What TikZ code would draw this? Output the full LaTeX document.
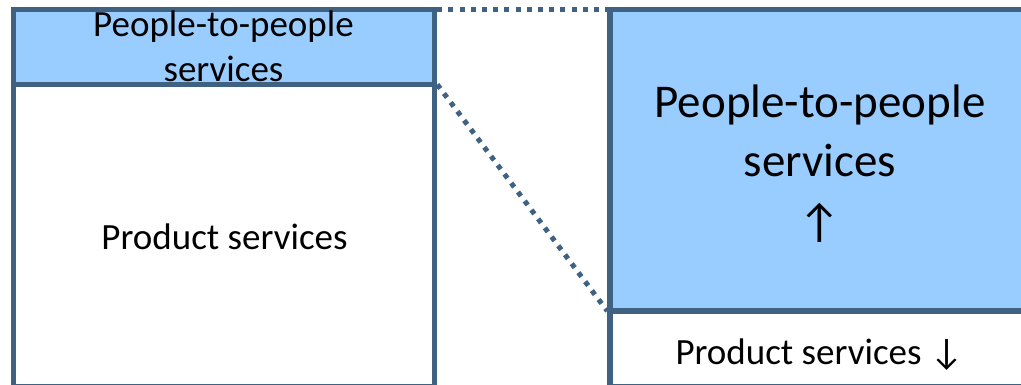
\documentclass[tikz,border=0pt]{standalone}
\usepackage{fontspec}
\setmainfont{Carlito}
\definecolor{frame}{RGB}{63,97,130}
\definecolor{band}{RGB}{153,204,255}
\tikzset{
  panel/.style={draw=frame, line width=5.5pt},
  zoomline/.style={draw=frame, line width=5pt, dash pattern=on 5pt off 6.2pt},
  smalltext/.style={font=\fontsize{37}{45}\selectfont, align=center, anchor=base, inner sep=0pt},
  bigtext/.style={font=\fontsize{47}{59}\selectfont, align=center, anchor=base, inner sep=0pt}
}
\begin{document}
\begin{tikzpicture}[x=1pt, y=-1pt]
  \useasboundingbox (0,0) rectangle (1021,385);
  \clip (0,0) rectangle (1021,385);
  % corner points of the two panels
  \coordinate (lt) at (13.5,9.5);
  \coordinate (lm) at (434.5,84.5);
  \coordinate (lb) at (434.5,387);
  \coordinate (rt) at (610,9.5);
  \coordinate (rm) at (1032,311);
  \coordinate (rb) at (1032,387);
  \coordinate (ltr) at (434.5,9.5);
  \coordinate (lmr) at (434.5,84.5);
  \coordinate (rml) at (610,311);
  % left panel: thin band on top of a tall white block
  \fill[band] (lt) rectangle (lm);
  \draw[panel] (lt |- lm) rectangle (lb);
  \draw[panel] (lt) rectangle (lm);
  % right panel: tall band on top of a short white block
  \fill[band] (rt) rectangle (rm);
  \draw[panel] (rt |- rm) rectangle (rb);
  \draw[panel] (rt) rectangle (rm);
  % dotted zoom lines between the panels
  \draw[zoomline] ([xshift=2.75pt]ltr) -- ([xshift=-2.75pt]rt);
  \draw[zoomline] ([xshift=2.75pt]lmr) -- ([xshift=-2.75pt]rml);
  % labels (base anchor sits on the last line)
  \node[smalltext] (lband) at (223.5,82) {People-to-people\\services};
  \node[smalltext] (lprod) at (224.5,249) {Product services};
  \node[bigtext] (rband) at (820,237) {People-to-people\\services\\[2pt]↑};
  \node[smalltext] (rprod) at (819.5,364) {Product services ↓};
\end{tikzpicture}
\end{document}
